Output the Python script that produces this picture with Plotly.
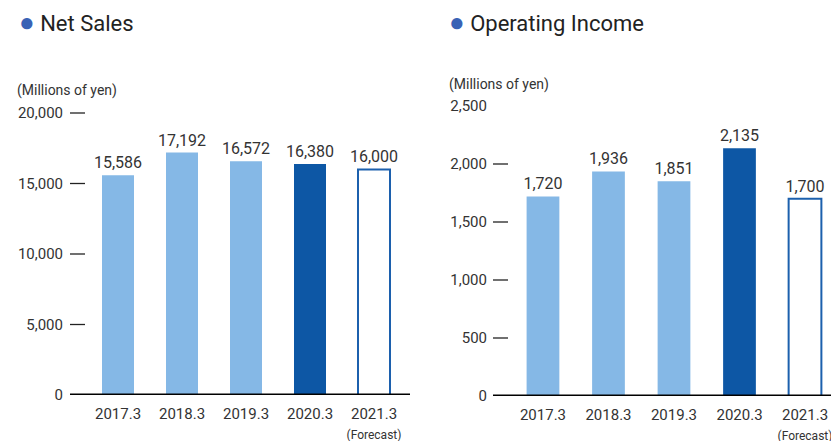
import plotly.graph_objects as go

categories = ["2017.3", "2018.3", "2019.3", "2020.3", "2021.3"]
cat_labels = ["2017.3", "2018.3", "2019.3", "2020.3",
              "2021.3<br><span style='font-size:12px'>(Forecast)</span>"]
net_sales = [15586, 17192, 16572, 16380, 16000]
op_income = [1720, 1936, 1851, 2135, 1700]
sales_ticks = [0, 5000, 10000, 15000, 20000]
income_ticks = [0, 500, 1000, 1500, 2000, 2500]

LIGHT = "#85b8e6"
DARK = "#0d57a5"
EDGE = "#1c60ad"
fills = [LIGHT, LIGHT, LIGHT, DARK, "#ffffff"]
edges = [LIGHT, LIGHT, LIGHT, DARK, EDGE]
edge_w = [0, 0, 0, 0, 2]

W, H = 839, 441
OFF = 8  # page body margin
TXT = "#333333"
TICKFONT = dict(family="Roboto, sans-serif", size=15, color=TXT)


def px(x):
    return (x - OFF) / W


def py(y):
    return (H - (y - OFF)) / H


# left plot: 0 at y=395, 20,000 at y=113; extend top a little so the top dash is not clipped
top_px = 105
sales_max = 20000 * (395 - top_px) / (395 - 113)

fig = go.Figure()
for vals, xa, ya in [(net_sales, "x", "y"), (op_income, "x2", "y2")]:
    fig.add_trace(go.Bar(
        x=categories, y=vals, xaxis=xa, yaxis=ya, width=0.5,
        marker=dict(color=fills, line=dict(color=edges, width=edge_w)),
        text=[f"{v:,}" for v in vals], textposition="outside",
        constraintext="none",
        textfont=dict(family="Roboto, sans-serif", size=16, color=TXT),
        cliponaxis=False, showlegend=False, hoverinfo="skip",
    ))

common = dict(showgrid=False, zeroline=False, showline=False, ticks="",
              tickfont=TICKFONT, automargin=False, fixedrange=True)

fig.update_layout(
    width=W, height=H, margin=dict(l=0, r=0, t=0, b=0),
    paper_bgcolor="white", plot_bgcolor="white",
    xaxis=dict(domain=[px(70), px(410)], range=[-0.75, 4.5625], anchor="y",
               tickmode="array", tickvals=categories, ticktext=cat_labels,
               ticklabelstandoff=8, **common),
    yaxis=dict(domain=[py(395), py(top_px)], range=[0, sales_max], anchor="x",
               tickmode="array", tickvals=sales_ticks,
               ticktext=[f"{v:,}" for v in sales_ticks],
               ticklabelstandoff=6, **common),
    xaxis2=dict(domain=[px(493), px(839)], range=[-0.763, 4.519], anchor="y2",
                tickmode="array", tickvals=categories, ticktext=cat_labels,
                ticklabelstandoff=8, **common),
    yaxis2=dict(domain=[py(396), py(106)], range=[0, 2500], anchor="x2",
                tickmode="array", tickvals=income_ticks,
                ticktext=[f"{v:,}" for v in income_ticks],
                ticklabelstandoff=5, **common),
)

# baseline axis lines
fig.add_shape(type="line", xref="x domain", yref="y", x0=0, x1=1, y0=0, y1=0,
              line=dict(color="#000000", width=3))
fig.add_shape(type="line", xref="x2 domain", yref="y2", x0=0, x1=1, y0=0, y1=0,
              line=dict(color="#000000", width=3))

# tick dashes
for t in sales_ticks[1:]:
    fig.add_shape(type="line", xref="x domain", yref="y", x0=0, x1=15 / 340,
                  y0=t, y1=t, line=dict(color="#222222", width=1.3))
for t in income_ticks[1:-1]:
    fig.add_shape(type="line", xref="x2 domain", yref="y2", x0=0, x1=15 / 346,
                  y0=t, y1=t, line=dict(color="#222222", width=1.3))

DOT = "#3a62b5"
for x0, label in [(17, "Net Sales"), (447, "Operating Income")]:
    fig.add_annotation(xref="paper", yref="paper", x=px(x0), y=py(22), xanchor="left",
                       yanchor="middle", showarrow=False,
                       text=f"<span style='color:{DOT};font-size:26px'>●</span> {label}",
                       font=dict(family="Roboto, sans-serif", size=22, color="#222222"))
fig.add_annotation(xref="paper", yref="paper", x=px(15), y=py(91), xanchor="left",
                   yanchor="middle", showarrow=False, text="(Millions of yen)",
                   font=dict(family="Roboto, sans-serif", size=14, color=TXT))
fig.add_annotation(xref="paper", yref="paper", x=px(447), y=py(84), xanchor="left",
                   yanchor="middle", showarrow=False, text="(Millions of yen)",
                   font=dict(family="Roboto, sans-serif", size=14, color=TXT))

fig.write_html("out.html")
